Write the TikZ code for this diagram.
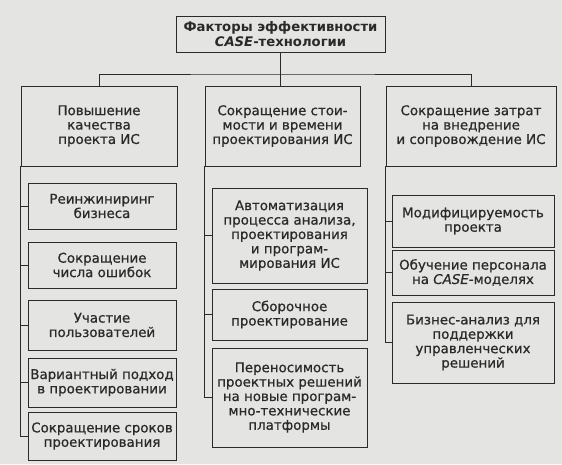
\documentclass[tikz,border=0pt]{standalone}
\usepackage{fontspec}
\setmainfont{DejaVu Sans}
\newfontfamily\scanfont{DejaVu Sans}[FakeBold=0.7]
\usetikzlibrary{positioning}
\definecolor{paper}{HTML}{E4E4E2}
\definecolor{ink}{HTML}{2A2A2A}
\tikzset{
  factor/.style={draw=ink, line width=0.9pt, align=center, inner sep=2pt, text=ink,
                 font=\scanfont\fontsize{13.4}{14.4}\selectfont},
  headbox/.style={factor, font=\bfseries\fontsize{13.2}{14.6}\selectfont, minimum width=209pt, minimum height=36pt},
  groupbox/.style={factor, minimum height=80pt, execute at begin node=\rule{0pt}{27pt}},
  itembox/.style={factor},
  link/.style={draw=ink, line width=0.9pt}
}

\begin{document}
\begin{tikzpicture}[x=1pt, y=-1pt]
  \fill[paper] (0,0) rectangle (562,464);
  \useasboundingbox (0,0) rectangle (562,464);

  \node[headbox] (fk) at (280.5,34) {Факторы эффективности\\\textit{CASE}-технологии};

  % three groups
  \node[groupbox, minimum width=156pt] (pq) at (99,126) {Повышение\\качества\\проекта ИС};
  \node[groupbox, minimum width=155pt] (sc) at (282.5,126) {Сокращение стои-\\мости и времени\\проектирования ИС};
  \node[groupbox, minimum width=170pt] (sz) at (471,126) {Сокращение затрат\\на внедрение\\и сопровождение ИС};

  \coordinate (bus) at (280,74);
  \draw[link] (fk.south) -- (fk.south |- sc.north);
  \draw[link] (pq.north) |- (bus) -| (sz.north);

  % left column
  \node[itembox, minimum width=148pt, minimum height=46pt] (pq1) at (102,206) {Реинжиниринг\\бизнеса};
  \node[itembox, minimum width=148pt, minimum height=46pt] (pq2) at (102,265) {Сокращение\\числа ошибок};
  \node[itembox, minimum width=148pt, minimum height=50pt] (pq3) at (102,325) {Участие\\пользователей};
  \node[itembox, minimum width=148pt, minimum height=49pt] (pq4) at (102,382.5) {Вариантный подход\\в проектировании};
  \node[itembox, minimum width=148pt, minimum height=48pt] (pq5) at (102,436) {Сокращение сроков\\проектирования};

  % middle column
  \node[itembox, minimum width=155pt, minimum height=95pt] (sc1) at (289.5,235.5) {Автоматизация\\процесса анализа,\\проектирования\\и програм-\\мирования ИС};
  \node[itembox, minimum width=155pt, minimum height=51pt] (sc2) at (289.5,314.5) {Сборочное\\проектирование};
  \node[itembox, minimum width=155pt, minimum height=99pt] (sc3) at (289.5,397.5) {Переносимость\\проектных решений\\на новые програм-\\мно-технические\\платформы};

  % right column
  \node[itembox, minimum width=162pt, minimum height=52pt] (sz1) at (473,221) {Модифицируемость\\проекта};
  \node[itembox, minimum width=162pt, minimum height=45pt] (sz2) at (473,272.5) {Обучение персонала\\на \textit{CASE}-моделях};
  \node[itembox, minimum width=162pt, minimum height=81pt] (sz3) at (473,342.5) {Бизнес-анализ для\\поддержки\\управленческих\\решений};

  \draw[link] (pq.south west) |- (pq1.west) (pq.south west) |- (pq2.west) (pq.south west) |- (pq3.west)
              (pq.south west) |- (pq4.west) (pq.south west) |- (pq5.west);
  \draw[link] (sc.south west) |- (sc1.west) (sc.south west) |- (sc2.west) (sc.south west) |- (sc3.west);
  \draw[link] (sz.south west) |- (sz1.west) (sz.south west) |- (sz2.west) (sz.south west) |- (sz3.west);
\end{tikzpicture}
\end{document}
